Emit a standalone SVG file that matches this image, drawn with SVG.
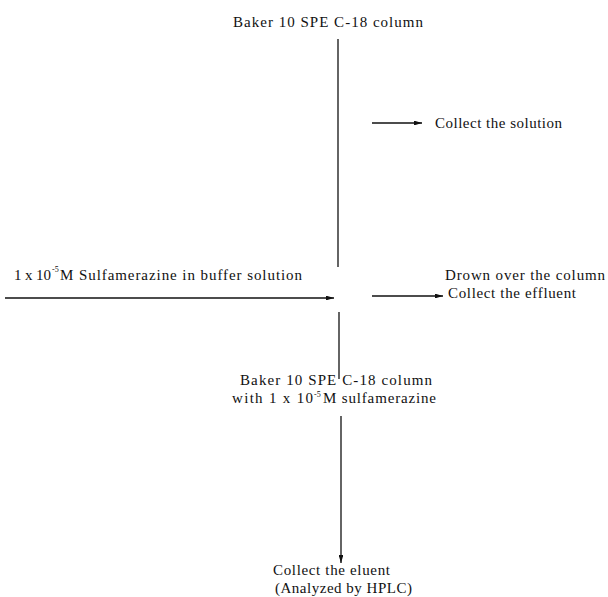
<svg xmlns="http://www.w3.org/2000/svg" width="608" height="597" viewBox="0 0 608 597">
<style>
text{font-family:"Liberation Serif","Times New Roman",serif;font-size:15px;fill:#111}
.ln{stroke:#111;stroke-width:1.3;fill:none}
.sup{font-size:8px}
</style>
<defs>
<marker id="ah" viewBox="0 0 10 6" refX="10" refY="3" markerWidth="8" markerHeight="4.8" markerUnits="userSpaceOnUse" orient="auto">
<path d="M0,0 L10,3 L0,6 z" fill="#111"/>
</marker>
</defs>
<rect width="608" height="597" fill="#fff"/>
<g id="connectors">
<line class="ln" x1="338" y1="39" x2="338" y2="267"/>
<line class="ln" x1="372" y1="123" x2="422" y2="123" marker-end="url(#ah)"/>
<line class="ln" x1="5" y1="298" x2="334" y2="298" marker-end="url(#ah)"/>
<line class="ln" x1="372" y1="296" x2="443" y2="296" marker-end="url(#ah)"/>
<line class="ln" x1="339" y1="312" x2="339" y2="379"/>
<line class="ln" x1="341" y1="416" x2="341" y2="563" marker-end="url(#ah)"/>
</g>
<g id="node-top"><text x="233" y="27" textLength="190" lengthAdjust="spacing">Baker 10 SPE C-18 column</text></g>
<g id="node-solution"><text x="435" y="128" textLength="127" lengthAdjust="spacing">Collect the solution</text></g>
<g id="node-input">
<text x="14" y="280" textLength="37" lengthAdjust="spacing">1 x 10</text>
<text class="sup" x="52" y="272">-5</text>
<text x="60" y="280" textLength="242" lengthAdjust="spacing">M Sulfamerazine in buffer solution</text>
</g>
<g id="node-effluent">
<text x="445" y="280" textLength="160" lengthAdjust="spacing">Drown over the column</text>
<text x="448" y="298" textLength="128" lengthAdjust="spacing">Collect the effluent</text>
</g>
<g id="node-column2">
<text x="240" y="385" textLength="192" lengthAdjust="spacing">Baker 10 SPE C-18 column</text>
<text x="232" y="403" textLength="81" lengthAdjust="spacing">with 1 x 10</text>
<text class="sup" x="314" y="397">-5</text>
<text x="323" y="403" textLength="113" lengthAdjust="spacing">M sulfamerazine</text>
</g>
<g id="node-eluent">
<text x="273" y="575" textLength="117" lengthAdjust="spacing">Collect the eluent</text>
<text x="275" y="593" textLength="137" lengthAdjust="spacing">(Analyzed by HPLC)</text>
</g>
</svg>
